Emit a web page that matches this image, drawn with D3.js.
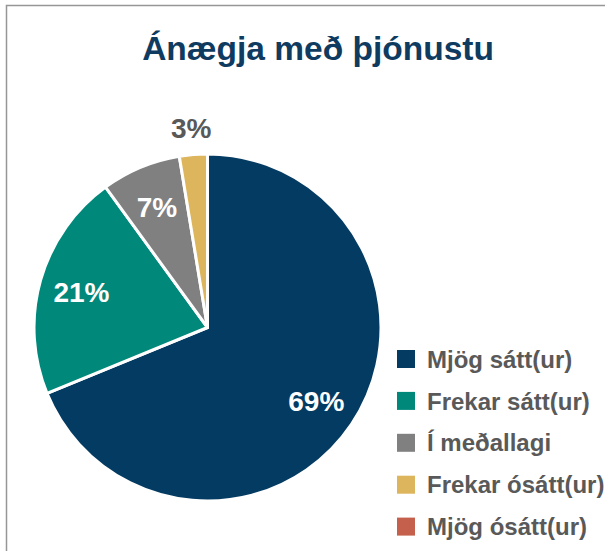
<!DOCTYPE html>
<html>
<head>
<meta charset="utf-8">
<script src="https://cdn.jsdelivr.net/npm/d3@7"></script>
<style>
  body { margin: 0; background: #fff; }
  svg { display: block; }
</style>
</head>
<body>
<div id="chart"></div>
<script>
'use strict';

// data
var categories = ['Mjög sátt(ur)', 'Frekar sátt(ur)', 'Í meðallagi', 'Frekar ósátt(ur)', 'Mjög ósátt(ur)'];
var values = [68.8, 21.2, 7.4, 2.6, 0];
var colors = ['#043b62', '#00887a', '#808080', '#dcb55c', '#c5604c'];
var title = 'Ánægja með þjónustu';

var chart = {};
chart.w = 605;
chart.h = 551;
chart.cx = 207.5;
chart.cy = 327.5;
chart.r = 173.5;

chart.data = categories.map(function (c, i) {
    return {name: c, value: values[i], color: colors[i]};
});

var svg = d3.select('#chart').append('svg')
    .attr('width', chart.w)
    .attr('height', chart.h);

// frame of the chart area
svg.append('rect')
    .attr('x', 6.5).attr('y', 5.5)
    .attr('width', 700).attr('height', 700)
    .attr('fill', 'none')
    .attr('stroke', '#969696')
    .attr('stroke-width', 1.5);

svg.append('text')
    .attr('x', 318)
    .attr('y', 60)
    .attr('text-anchor', 'middle')
    .style('font-family', 'Liberation Sans, Arial, sans-serif')
    .style('font-weight', 'bold')
    .style('font-size', '33.5px')
    .attr('fill', '#0e3b5f')
    .text(title);

var pie = d3.pie().sort(null).value(function (d) { return d.value; });
var arcs = pie(chart.data);

var arc = d3.arc().innerRadius(0).outerRadius(chart.r);
var labelArc = d3.arc().innerRadius(131).outerRadius(131);
var outerArc = d3.arc().innerRadius(chart.r + 27).outerRadius(chart.r + 27);

var g = svg.append('g')
    .attr('transform', 'translate(' + chart.cx + ',' + chart.cy + ')');

g.selectAll('path.slice')
    .data(arcs.filter(function (d) { return d.data.value > 0; }))
    .enter()
    .append('path')
    .attr('class', 'slice')
    .attr('d', arc)
    .attr('fill', function (d) { return d.data.color; })
    .attr('stroke', '#fff')
    .attr('stroke-width', 3)
    .attr('stroke-linejoin', 'round');

// percent labels, small slices go outside
g.selectAll('text.pct')
    .data(arcs.filter(function (d) { return d.data.value > 0; }))
    .enter()
    .append('text')
    .attr('class', 'pct')
    .attr('transform', function (d) {
        var p = d.data.value < 5 ? outerArc.centroid(d) : labelArc.centroid(d);
        return 'translate(' + p[0] + ',' + p[1] + ')';
    })
    .attr('text-anchor', 'middle')
    .attr('dy', '0.36em')
    .style('font-family', 'Liberation Sans, Arial, sans-serif')
    .style('font-weight', 'bold')
    .style('font-size', '28px')
    .attr('fill', function (d) { return d.data.value < 5 ? '#595959' : '#fff'; })
    .text(function (d) { return Math.round(d.data.value) + '%'; });

// legend
var legend = svg.append('g')
    .attr('transform', 'translate(397,359)');

var rows = legend.selectAll('g.row')
    .data(chart.data)
    .enter()
    .append('g')
    .attr('class', 'row')
    .attr('transform', function (d, i) { return 'translate(0,' + (i * 41.9) + ')'; });

rows.append('rect')
    .attr('x', 0).attr('y', -9)
    .attr('width', 18).attr('height', 18)
    .attr('fill', function (d) { return d.color; });

rows.append('text')
    .attr('x', 30)
    .attr('y', 0)
    .attr('dy', '0.36em')
    .style('font-family', 'Liberation Sans, Arial, sans-serif')
    .style('font-weight', 'bold')
    .style('font-size', '24px')
    .attr('fill', '#595959')
    .text(function (d) { return d.name; });
</script>
</body>
</html>
